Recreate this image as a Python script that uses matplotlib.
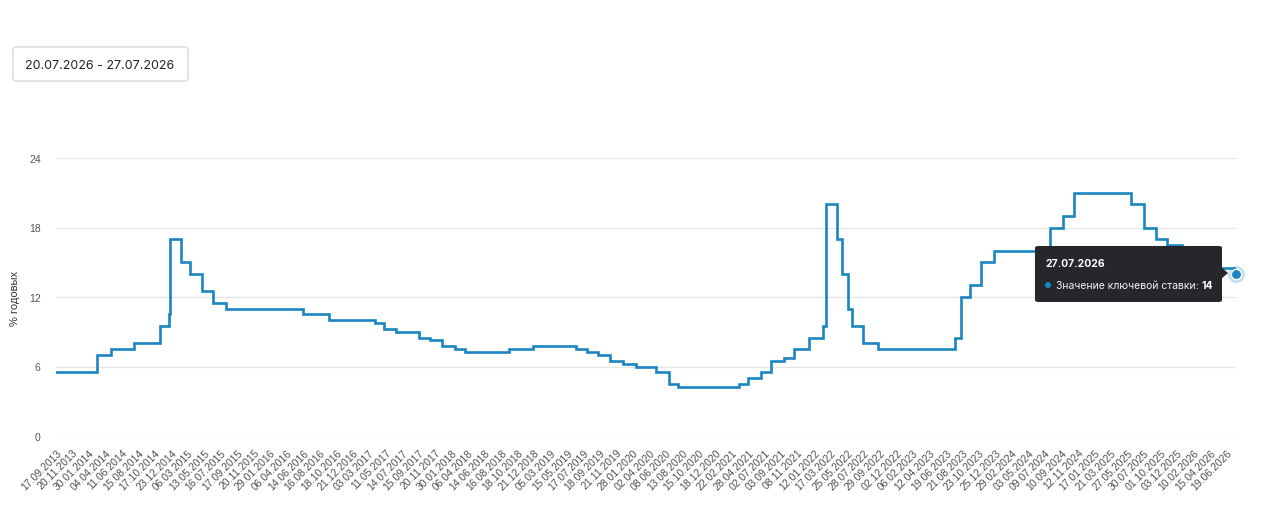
import numpy as np
import matplotlib
matplotlib.use("Agg")
import matplotlib.pyplot as plt
from matplotlib.patches import FancyBboxPatch, Polygon, Circle
from matplotlib.transforms import IdentityTransform
from datetime import date

# ---------------- data ----------------
tick_labels = [
    "17.09.2013", "20.11.2013", "30.01.2014", "04.04.2014", "11.06.2014", "15.08.2014",
    "17.10.2014", "23.12.2014", "06.03.2015", "13.05.2015", "16.07.2015", "17.09.2015",
    "20.11.2015", "29.01.2016", "06.04.2016", "14.06.2016", "16.08.2016", "18.10.2016",
    "21.12.2016", "03.03.2017", "11.05.2017", "14.07.2017", "15.09.2017", "20.11.2017",
    "30.01.2018", "06.04.2018", "14.06.2018", "16.08.2018", "18.10.2018", "21.12.2018",
    "05.03.2019", "15.05.2019", "17.07.2019", "18.09.2019", "21.11.2019", "28.01.2020",
    "02.04.2020", "08.06.2020", "13.08.2020", "15.10.2020", "18.12.2020", "22.02.2021",
    "28.04.2021", "02.07.2021", "03.09.2021", "08.11.2021", "12.01.2022", "17.03.2022",
    "25.05.2022", "28.07.2022", "29.09.2022", "02.12.2022", "06.02.2023", "12.04.2023",
    "19.06.2023", "21.08.2023", "23.10.2023", "25.12.2023", "29.02.2024", "03.05.2024",
    "09.07.2024", "10.09.2024", "12.11.2024", "17.01.2025", "21.03.2025", "27.05.2025",
    "30.07.2025", "01.10.2025", "03.12.2025", "10.02.2026", "15.04.2026", "19.06.2026",
]
ticks_step = 45  # working days between labelled categories

rate_dates = [
    "17.09.2013", "03.03.2014", "28.04.2014", "28.07.2014", "05.11.2014", "12.12.2014",
    "16.12.2014", "02.02.2015", "16.03.2015", "05.05.2015", "16.06.2015", "03.08.2015",
    "14.06.2016", "19.09.2016", "27.03.2017", "02.05.2017", "19.06.2017", "18.09.2017",
    "30.10.2017", "18.12.2017", "12.02.2018", "26.03.2018", "17.09.2018", "17.12.2018",
    "17.06.2019", "29.07.2019", "09.09.2019", "28.10.2019", "16.12.2019", "10.02.2020",
    "27.04.2020", "22.06.2020", "27.07.2020", "22.03.2021", "26.04.2021", "15.06.2021",
    "26.07.2021", "13.09.2021", "25.10.2021", "20.12.2021", "14.02.2022", "28.02.2022",
    "11.04.2022", "04.05.2022", "27.05.2022", "14.06.2022", "25.07.2022", "19.09.2022",
    "24.07.2023", "15.08.2023", "18.09.2023", "30.10.2023", "18.12.2023", "29.07.2024",
    "16.09.2024", "28.10.2024", "09.06.2025", "28.07.2025", "15.09.2025", "27.10.2025",
    "22.12.2025", "16.02.2026", "23.03.2026", "27.04.2026", "22.07.2026", "27.07.2026",
]
rate_values = [
    5.5, 7.0, 7.5, 8.0, 9.5, 10.5,
    17.0, 15.0, 14.0, 12.5, 11.5, 11.0,
    10.5, 10.0, 9.75, 9.25, 9.0, 8.5,
    8.25, 7.75, 7.5, 7.25, 7.5, 7.75,
    7.5, 7.25, 7.0, 6.5, 6.25, 6.0,
    5.5, 4.5, 4.25, 4.5, 5.0, 5.5,
    6.5, 6.75, 7.5, 8.5, 9.5, 20.0,
    17.0, 14.0, 11.0, 9.5, 8.0, 7.5,
    8.5, 12.0, 13.0, 15.0, 16.0, 18.0,
    19.0, 21.0, 20.0, 18.0, 17.0, 16.5,
    16.0, 15.5, 15.0, 14.5, 14.5, 14.0,
]

y_ticks = [0, 6, 12, 18, 24]
period_text = "20.07.2026 - 27.07.2026"
tooltip_date = "27.07.2026"
tooltip_label = "Значение ключевой ставки: "
y_label = "% годовых"

# ---------------- category-axis positions ----------------
def to_date(s):
    d, m, y = s.split(".")
    return date(int(y), int(m), int(d))

tick_ord = np.array([to_date(s).toordinal() for s in tick_labels], dtype=float)
tick_idx = np.arange(len(tick_labels)) * ticks_step

def pos(s):
    d = to_date(s)
    o = d.toordinal()
    if o <= tick_ord[-1]:
        return float(np.interp(o, tick_ord, tick_idx))
    extra = np.busday_count(to_date(tick_labels[-1]).isoformat(), d.isoformat())
    return float(tick_idx[-1] + extra)

xs = np.array([pos(s) for s in rate_dates])
ys = np.array(rate_values)

# ---------------- figure ----------------
W, H = 1280, 510
fig = plt.figure(figsize=(W / 100, H / 100), dpi=100)
fig.patch.set_facecolor("white")

def fx(px):
    return px / W

def fy(py):
    return 1 - py / H

ax_l, ax_r, ax_t, ax_b = 56, 1236, 159, 437
ax = fig.add_axes([fx(ax_l), fy(ax_b), fx(ax_r - ax_l), (ax_b - ax_t) / H])
ax.set_facecolor("white")

LINE = "#1a86c1"
ax.plot(xs, ys, drawstyle="steps-post", color=LINE, lw=1.9, zorder=3,
        solid_joinstyle="miter")

ax.set_xlim(xs[0], xs[-1])
ax.set_ylim(0, 24)
ax.set_yticks(y_ticks)
ax.set_yticklabels([str(v) for v in y_ticks], fontfamily="Liberation Sans",
                   fontsize=7.5, color="#555555")
for v in y_ticks:
    ax.axhline(v, color="#e6e6e6" if v else "#d6d6d6", lw=0.9, zorder=1)

ax.set_xticks(tick_idx)
ax.set_xticklabels(tick_labels, rotation=45, ha="right", va="top",
                   rotation_mode="anchor", fontfamily="Liberation Sans",
                   fontsize=7.5, color="#4f4f4f")
ax.tick_params(axis="both", length=0)
ax.tick_params(axis="x", pad=8)
ax.tick_params(axis="y", pad=11)
for sp in ax.spines.values():
    sp.set_visible(False)

fig.text(fx(15), fy(298), y_label, rotation=90, ha="center", va="center",
         fontfamily="Liberation Sans", fontsize=8, color="#333333")

# ---------------- date range box ----------------
fig.add_artist(FancyBboxPatch((fx(13), fy(82)), fx(175), (82 - 48) / H,
                              boxstyle="round,pad=0,rounding_size=0.004",
                              transform=fig.transFigure, facecolor="white",
                              edgecolor="#d9d9d9", lw=1.0))
fig.text(fx(100), fy(66), period_text, ha="center", va="center",
         fontfamily="Inter", fontsize=9, color="#222222")

# ---------------- hover point ----------------
last_x, last_y = xs[-1], ys[-1]
ax.scatter([last_x], [last_y], s=150, color=LINE, alpha=0.25, zorder=4,
           clip_on=False, linewidths=0)
ax.scatter([last_x], [last_y], s=55, color=LINE, zorder=5, clip_on=False,
           edgecolors="white", linewidths=1.0)

# ---------------- tooltip ----------------
TIP = "#25272b"
fig.add_artist(FancyBboxPatch((fx(1035), fy(303)), fx(187), (303 - 247) / H,
                              boxstyle="round,pad=0,rounding_size=0.003",
                              transform=fig.transFigure, facecolor=TIP,
                              edgecolor="none", zorder=10))
fig.add_artist(Polygon([(fx(1221), fy(268)), (fx(1228), fy(274)), (fx(1221), fy(280))],
                       closed=True, transform=fig.transFigure, facecolor=TIP,
                       edgecolor="none", zorder=10))
fig.text(fx(1045), fy(264), tooltip_date, ha="left", va="center",
         fontfamily="Inter", fontsize=7.5, fontweight="bold", color="white", zorder=11)
fig.add_artist(Circle((1048, H - 286), 3.0, transform=IdentityTransform(),
                      facecolor=LINE, edgecolor="none", zorder=11))
t = fig.text(fx(1056), fy(286), tooltip_label, ha="left", va="center",
             fontfamily="Inter", fontsize=7.5, color="#f2f2f2", zorder=11)
fig.canvas.draw()
bb = t.get_window_extent()
fig.text(bb.x1 / W, fy(286), f"{last_y:g}", ha="left", va="center",
         fontfamily="Inter", fontsize=7.5, fontweight="bold", color="white", zorder=11)

fig.savefig("out.png", dpi=100, facecolor="white")
